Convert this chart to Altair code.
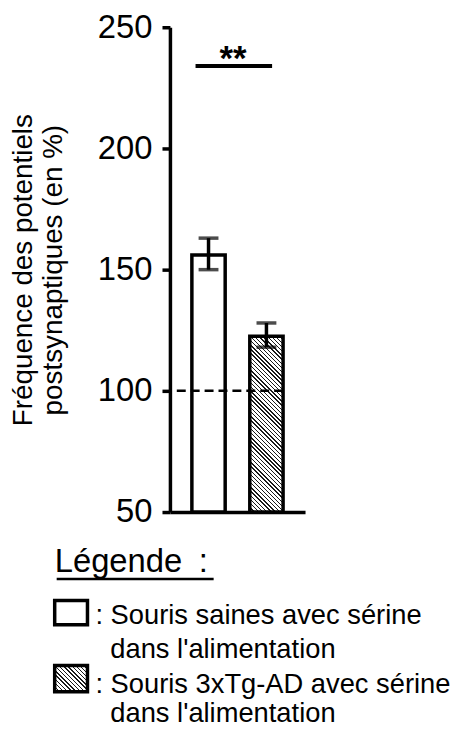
import altair as alt
import pandas as pd

# ---------------- data ----------------
categories = ["Souris saines", "Souris 3xTg-AD"]
means = [156, 122.5]
err_lo = [150, 118]
err_hi = [163, 128]
baseline_value = 50
reference_value = 100
signif_value = 234
signif_label = "**"
y_ticks = [50, 100, 150, 200, 250]
y_title = ["Fréquence des potentiels", "postsynaptiques (en %)"]
legend_title = "Légende\u2002:"
legend_item1 = [": Souris saines avec sérine", "dans l'alimentation"]
legend_item2 = [": Souris 3xTg-AD avec sérine", "dans l'alimentation"]

# ---------------- layout ----------------
W, H = 136, 488
P_INNER, P_OUTER = 0.425, 0.379
FONT = "Liberation Sans"
step = W / (len(categories) - P_INNER + 2 * P_OUTER)
bandw = step * (1 - P_INNER)


def hatch(w, h, period=3.0, frac=0.34, ink="#1a1a1a"):
    k = (w + h) / (w * w + h * h)
    n = max(1, round((w + h) / (2 ** 0.5) / period))
    stops = []
    for i in range(n):
        a, b, c = i / n, (i + frac) / n, (i + 1) / n
        stops += [
            alt.GradientStop(offset=a, color=ink),
            alt.GradientStop(offset=b, color=ink),
            alt.GradientStop(offset=b, color="white"),
            alt.GradientStop(offset=min(c, 1.0), color="white"),
        ]
    return alt.Gradient(gradient="linear", x1=0, y1=1, x2=k * w, y2=1 - k * h, stops=stops)


df = pd.DataFrame({"cat": categories, "mean": means, "lo": err_lo, "hi": err_hi,
                   "base": [baseline_value] * len(categories)})
ref_df = pd.DataFrame({"cat": [categories[-1]], "y": [reference_value]})
sig_df = pd.DataFrame({"c1": [categories[0]], "c2": [categories[1]], "y": [signif_value],
                       "t": [signif_label]})

x_scale = alt.Scale(domain=categories, paddingInner=P_INNER, paddingOuter=P_OUTER)
x_axis = alt.Axis(labels=False, ticks=False, title=None, domainColor="black",
                  domainWidth=3.5, grid=False)
y_scale = alt.Scale(domain=[50, 250], nice=False, zero=False)
y_axis = alt.Axis(values=y_ticks, title=y_title, grid=False, domainColor="black",
                  domainWidth=3.5, tickColor="black", tickWidth=3.5, tickSize=8,
                  labelFont=FONT, labelFontSize=33, labelColor="black", labelPadding=10,
                  labelFlush=False, labelOverlap=False,
                  titleFont=FONT, titleFontSize=28, titleFontWeight="normal",
                  titleColor="black", titlePadding=30, titleLineHeight=30)


def X(field, **kw):
    return alt.X(field, type="nominal", scale=x_scale, axis=x_axis, **kw)


def Y(field):
    return alt.Y(field, type="quantitative", scale=y_scale, axis=y_axis)


base = alt.Chart(df)

bar1 = base.transform_filter(alt.datum.cat == categories[0]).mark_bar(
    fill="white", stroke="black", strokeWidth=3.5
).encode(x=X("cat"), y=Y("mean"), y2="base")

h2 = (means[1] - baseline_value) / 200 * H
bar2 = base.transform_filter(alt.datum.cat == categories[1]).mark_bar(
    fill=hatch(bandw, h2), stroke="black", strokeWidth=3.5
).encode(x=X("cat"), y=Y("mean"), y2="base")

ref_line = alt.Chart(ref_df).mark_rule(
    color="black", strokeWidth=2.5, strokeDash=[9, 5]
).encode(x=X("cat", bandPosition=1), x2=alt.value(0), y=Y("y"))

err_stem = base.mark_rule(color="black", strokeWidth=3.5).encode(
    x=X("cat"), y=Y("lo"), y2="hi")
cap_lo = base.mark_tick(color="black", thickness=3.5, size=20, orient="horizontal").encode(
    x=X("cat"), y=Y("lo"))
cap_hi = base.mark_tick(color="black", thickness=3.5, size=20, orient="horizontal").encode(
    x=X("cat"), y=Y("hi"))

sig_line = alt.Chart(sig_df).mark_rule(color="black", strokeWidth=4).encode(
    x=X("c1", bandPosition=0.11), x2=alt.X2("c2", bandPosition=0.67), y=Y("y"))
sig_text = alt.Chart(sig_df).mark_text(
    font=FONT, fontSize=35, fontWeight="bold", color="black", baseline="alphabetic",
    align="center", dy=4
).encode(x=alt.value(63.5), y=Y("y"), text="t:N")


def label(txt, px, py, size=27.5):
    return alt.Chart(pd.DataFrame({"t": [txt]})).mark_text(
        font=FONT, fontSize=size, color="black", align="left", baseline="alphabetic"
    ).encode(x=alt.value(px), y=alt.value(py), text="t:N")


one = pd.DataFrame({"k": [0]})
leg_title = label(legend_title, -116, 548.5, size=33)
leg_under = alt.Chart(one).mark_rule(color="black", strokeWidth=2.5).encode(
    x=alt.value(-114), x2=alt.value(44), y=alt.value(555.5))
box1 = alt.Chart(one).mark_rect(fill="white", stroke="black", strokeWidth=3.5).encode(
    x=alt.value(-116), x2=alt.value(-83), y=alt.value(577), y2=alt.value(601.5))
box2 = alt.Chart(one).mark_rect(fill=hatch(33, 26.5), stroke="black", strokeWidth=3.5).encode(
    x=alt.value(-116), x2=alt.value(-83), y=alt.value(642.5), y2=alt.value(669))
l1a = label(legend_item1[0], -75, 601)
l1b = label(legend_item1[1], -60, 635)
l2a = label(legend_item2[0], -75, 670)
l2b = label(legend_item2[1], -60, 699)

chart = alt.layer(
    bar1, bar2, ref_line, err_stem, cap_lo, cap_hi, sig_line, sig_text,
    leg_title, leg_under, box1, box2, l1a, l1b, l2a, l2b
).properties(
    width=W, height=H,
    autosize=alt.AutoSizeParams(type="none"),
    padding={"left": 163, "top": 17, "right": 158, "bottom": 214},
    background="white",
).configure_view(stroke=None)

chart.save("out.html", embed_options={"renderer": "svg", "actions": False})
